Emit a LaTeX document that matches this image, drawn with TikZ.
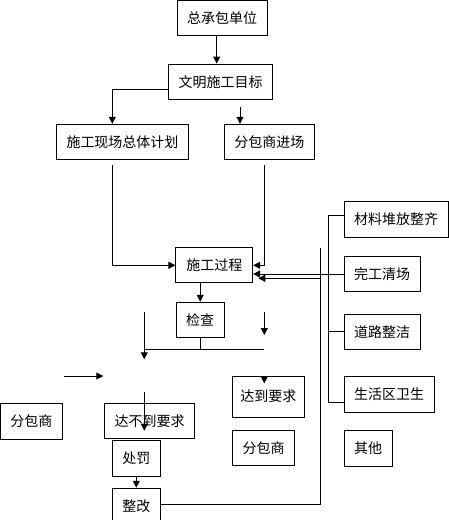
\documentclass[tikz,border=0pt]{standalone}
\usepackage{fontspec}
\newfontfamily\cjk{Noto Sans CJK SC}
\usetikzlibrary{arrows.meta}
\begin{document}
\begin{tikzpicture}[x=1pt,y=-1pt, line width=1pt,
  bx/.style={draw, line width=1pt, inner sep=0pt, font=\cjk\fontsize{14}{16}\selectfont, anchor=center},
  arr/.style={-{Triangle[length=7pt,width=7pt]}}]
\useasboundingbox (0,0) rectangle (449,520);
\clip (0,0) rectangle (449,520);
% nodes
\node[bx, minimum width=90pt,  minimum height=34.5pt] (zcb) at (222,17.75) {总承包单位};
\node[bx, minimum width=104.4pt, minimum height=35.3pt] (wm) at (220.5,81.7) {文明施工目标};
\node[bx, minimum width=131.6pt, minimum height=35pt] (sgxc) at (122.5,141.8) {施工现场总体计划};
\node[bx, minimum width=90pt, minimum height=35pt] (fbjc) at (269.3,141.8) {分包商进场};
\node[bx, minimum width=76.7pt, minimum height=35.4pt] (sggc) at (214.3,265) {施工过程};
\node[bx, minimum width=48.3pt, minimum height=35pt] (jc) at (200.2,319.8) {检查};
\node[bx, minimum width=104.3pt, minimum height=35.6pt] (cl) at (396.2,219.5) {材料堆放整齐};
\node[bx, minimum width=76pt, minimum height=34.3pt] (wg) at (382,273.9) {完工清场};
\node[bx, minimum width=76pt, minimum height=35.3pt] (dl) at (382,331.7) {道路整洁};
\node[bx, minimum width=90.3pt, minimum height=36.3pt] (shq) at (389.2,394.2) {生活区卫生};
\node[bx, minimum width=48.3pt, minimum height=36.7pt] (qt) at (368.2,448.4) {其他};
\node[bx, minimum width=72pt, minimum height=41.3pt] (ddyq) at (268.3,396.7) {达到要求};
\node[bx, minimum width=62.4pt, minimum height=35.3pt] (fbs2) at (263.5,447.7) {分包商};
\node[bx, minimum width=61.8pt, minimum height=36pt] (fbs1) at (31.4,421.3) {分包商};
\node[bx, minimum width=90.4pt, minimum height=35pt] (ddbdyq) at (149.5,420.8) {达不到要求};
\node[bx, minimum width=48pt, minimum height=36.7pt] (cf) at (136.3,458.4) {处罚};
\node[bx, minimum width=48pt, minimum height=35pt] (zg) at (136.3,505.8) {整改};
% helper coordinates
\coordinate (xA) at (216.7,0);
\coordinate (xB) at (112.3,0);
\coordinate (yB) at (0,89.3);
\coordinate (s3) at (240,107.3);
\coordinate (s4) at (112.3,165);
\coordinate (s5) at (264.3,165);
\coordinate (y4) at (0,265.3);
\coordinate (y6) at (0,274);
\coordinate (s7) at (320.3,278.3);
\coordinate (e7) at (258.3,278.3);
\coordinate (s8) at (320.3,248.3);
\coordinate (y8) at (0,504);
\coordinate (xT) at (328.3,0);
\coordinate (yT1) at (0,215);
\coordinate (yT4) at (0,402.7);
\coordinate (yH) at (0,349.3);
\coordinate (xL) at (144.3,0);
\coordinate (xR) at (264.3,0);
\coordinate (l1) at (144.3,312.3);
\coordinate (l1e) at (144.3,359.3);
\coordinate (r1) at (264.3,312.3);
\coordinate (r1e) at (264.3,335);
\coordinate (h1) at (64.3,376);
\coordinate (h1e) at (103.3,376);
\coordinate (l2) at (144.3,391.7);
\coordinate (l2e) at (144.3,430.7);
\coordinate (r2) at (264.3,375.5);
\coordinate (r2e) at (264.3,383.3);
% connectors
\draw[arr] (zcb.south -| xA) -- (wm.north -| xA);
\draw[arr] (wm.west |- yB) -| (sgxc.north -| xB);
\draw[arr] (s3) -- (fbjc.north -| s3);
\draw[arr] (s4) |- (sggc.west |- y4);
\draw[arr] (s5) |- (sggc.east |- y4);
\draw[arr] (wg.west |- y6) -- (sggc.east |- y6);
\draw[arr] (s7) -- (e7);
\draw (s8) |- (zg.east |- y8);
\draw (cl.west |- yT1) -| (xT |- yT4) -- (shq.west |- yT4);
\draw (dl.west) -- (dl.west -| xT);
\draw[arr] (sggc.south -| jc.north) -- (jc.north);
\draw (jc.south) -- (jc.south |- yH);
\draw (xL |- yH) -- (xR |- yH);
\draw[arr] (l1) -- (l1e);
\draw[arr] (r1) -- (r1e);
\draw[arr] (h1) -- (h1e);
\draw[arr] (l2) -- (l2e);
\draw[arr] (r2) -- (r2e);
\draw[arr] (cf.south) -- (zg.north);
\end{tikzpicture}
\end{document}
